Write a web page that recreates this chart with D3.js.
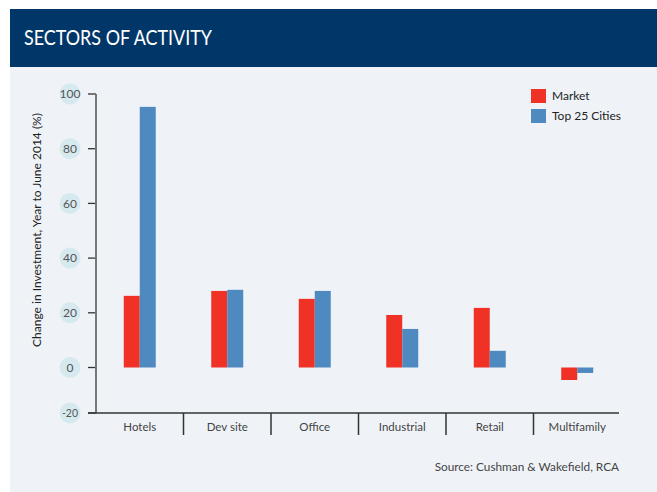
<!DOCTYPE html>
<html><head><meta charset="utf-8">
<script src="https://cdn.jsdelivr.net/npm/d3@7"></script>
<style>
html,body{margin:0;padding:0;background:#fff;}
svg{display:block;font-family:Lato, "Open Sans", sans-serif;}
</style></head>
<body>
<svg id="chart" width="657" height="492"></svg>
<script>
const categories = ["Hotels", "Dev site", "Office", "Industrial", "Retail", "Multifamily"];
const seriesNames = ["Market", "Top 25 Cities"];
const market = [26.2, 28, 25.1, 19.2, 21.8, -5.5];
const top25 = [95.3, 28.4, 28, 14.1, 6.1, -2.4];
const yTicks = [-20, 0, 20, 40, 60, 80, 100];
const colors = ["#ef3126", "#4e8abf"];

const svg = d3.select("#chart");
// background panel and header
svg.append("rect").attr("x", 10).attr("y", 67).attr("width", 647).attr("height", 425).attr("fill", "#eff3f8");
svg.append("rect").attr("x", 10).attr("y", 9).attr("width", 647).attr("height", 58).attr("fill", "#013768");
svg.append("text").attr("x", 24).attr("y", 45).attr("fill", "#fff")
  .attr("font-size", 21).attr("textLength", 188).attr("lengthAdjust", "spacingAndGlyphs")
  .text("SECTORS OF ACTIVITY");

const x = d3.scaleBand().domain(categories).range([96, 621]);
const xs = d3.scaleBand().domain(seriesNames).range([0, 32]);
const y = d3.scaleLinear().domain([-20, 0, 100]).range([413, 367.5, 94]);

// y ticks with circles
const yt = svg.append("g");
yTicks.forEach(t => {
  yt.append("circle").attr("cx", 70).attr("cy", y(t)).attr("r", 10.5).attr("fill", "#d5e9ef");
  yt.append("text").attr("x", 70).attr("y", y(t)).attr("dy", "0.35em").attr("text-anchor", "middle")
    .attr("font-size", t === -20 ? 10.5 : 12).attr("fill", "#555").text(t);
  yt.append("line").attr("x1", 88).attr("x2", 96).attr("y1", y(t)).attr("y2", y(t))
    .attr("stroke", "#333").attr("stroke-width", 1.3);
});
// y axis line
svg.append("line").attr("x1", 96).attr("x2", 96).attr("y1", y(100)).attr("y2", y(-20))
  .attr("stroke", "#777").attr("stroke-width", 2);

// bars
const data = categories.map((c, i) => ({c, vals: [market[i], top25[i]]}));
const g = svg.append("g");
data.forEach(d => {
  d.vals.forEach((v, j) => {
    const bx = x(d.c) + x.bandwidth() / 2 - 16 + xs(seriesNames[j]);
    g.append("rect").attr("x", bx).attr("width", xs.bandwidth())
      .attr("y", Math.min(y(v), y(0))).attr("height", Math.abs(y(v) - y(0)))
      .attr("fill", colors[j]);
  });
});

// x axis
svg.append("line").attr("x1", 88).attr("x2", 619).attr("y1", y(-20)).attr("y2", y(-20))
  .attr("stroke", "#333").attr("stroke-width", 1.5);
categories.slice(1).forEach(c => {
  svg.append("line").attr("x1", x(c)).attr("x2", x(c)).attr("y1", y(-20)).attr("y2", 435)
    .attr("stroke", "#333").attr("stroke-width", 1.5);
});
categories.forEach(c => {
  svg.append("text").attr("x", x(c) + x.bandwidth() / 2).attr("y", 427).attr("dy", "0.35em")
    .attr("text-anchor", "middle").attr("font-size", 11.5).attr("fill", "#444").text(c);
});

// y axis title
svg.append("text").attr("transform", "translate(41,230) rotate(-90)")
  .attr("text-anchor", "middle").attr("font-size", 12).attr("fill", "#222")
  .text("Change in Investment, Year to June 2014 (%)");

// legend
seriesNames.forEach((s, j) => {
  svg.append("rect").attr("x", 531).attr("y", 89 + j * 20).attr("width", 15).attr("height", 14).attr("fill", colors[j]);
  svg.append("text").attr("x", 552).attr("y", 96 + j * 20).attr("dy", "0.35em")
    .attr("font-size", 12).attr("fill", "#222").text(s);
});

// source
svg.append("text").attr("x", 619).attr("y", 467).attr("dy", "0.35em").attr("text-anchor", "end")
  .attr("font-size", 11.8).attr("fill", "#444").text("Source: Cushman & Wakefield, RCA");
</script>
</body></html>
